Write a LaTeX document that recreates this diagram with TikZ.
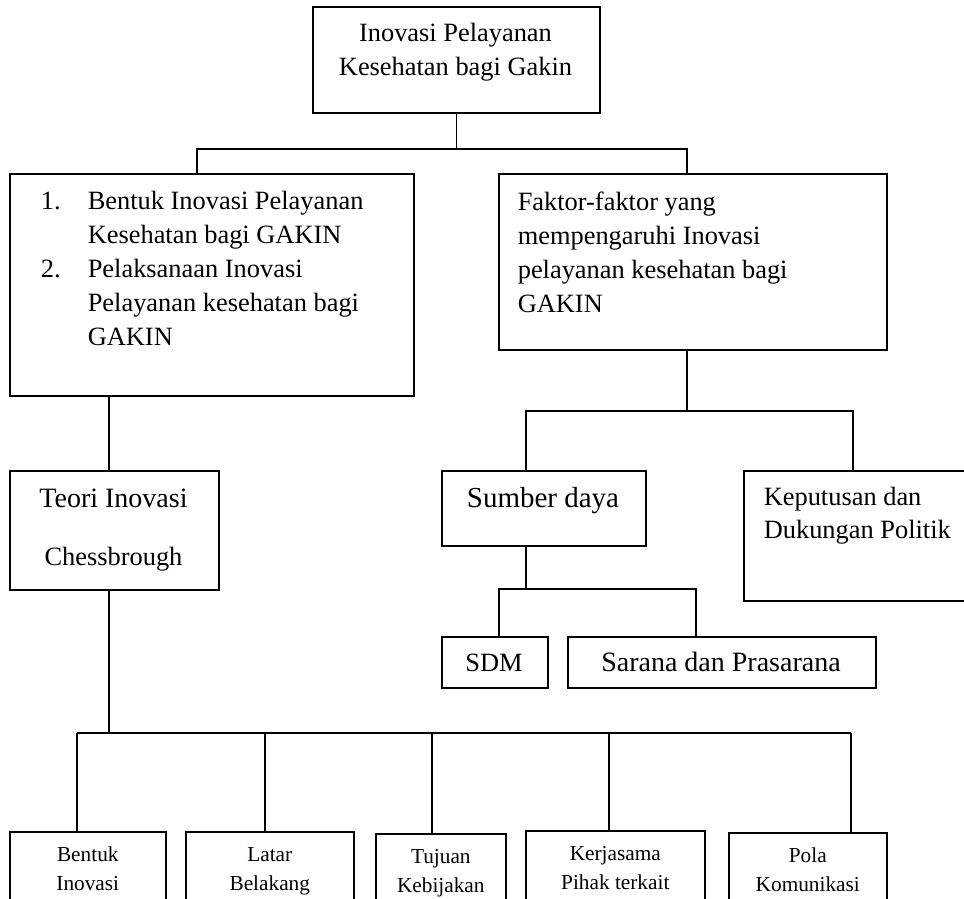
\documentclass[tikz,border=0pt]{standalone}
\usepackage{fontspec}
\setmainfont{Liberation Serif}

\begin{document}
\begin{tikzpicture}[x=1pt,y=-1pt,line width=1.6pt,
    frame/.style={draw, inner sep=0pt, anchor=north west},
    lbl/.style={inner sep=0pt, font=\fontsize{26.4}{34}\selectfont},
    small/.style={inner sep=0pt, font=\fontsize{21.3}{29}\selectfont}]

    \useasboundingbox (0,0) rectangle (964,899);
    \clip (0,0) rectangle (964,899);

    % boxes
    \node[frame, minimum width=287pt, minimum height=106pt] (top) at (312,6) {};
    \node[frame, minimum width=404pt, minimum height=222pt] (fokus) at (9,173) {};
    \node[frame, minimum width=388pt, minimum height=176pt] (faktor) at (498,173) {};
    \node[frame, minimum width=209pt, minimum height=119pt] (teori) at (9,470) {};
    \node[frame, minimum width=204pt, minimum height=75pt] (sumber) at (441,470) {};
    \node[frame, minimum width=240pt, minimum height=130pt] (putusan) at (743,470) {};
    \node[frame, minimum width=106pt, minimum height=51pt] (sdm) at (441,636) {};
    \node[frame, minimum width=308pt, minimum height=51pt] (sarana) at (567,636) {};
    \foreach \n/\x/\y/\w in {bentuk/9/831/156, latar/185/831/168, tujuan/375/833/130,
                             kerja/525/830/179, pola/728/832/158}
        \node[frame, minimum width=\w pt, minimum height=90pt] (\n) at (\x,\y) {};

    % texts
    \node[lbl, anchor=base] (topt) at (455.5,42)
        {\parbox[t]{280pt}{\centering Inovasi Pelayanan\\Kesehatan bagi Gakin}};
    \node[lbl, anchor=base west] (fokust) at (40,209)
        {\begin{tabular}[t]{@{}p{47pt}@{}l@{}}
            1. & Bentuk Inovasi Pelayanan\\
               & Kesehatan bagi GAKIN\\
            2. & Pelaksanaan Inovasi\\
               & Pelayanan kesehatan bagi\\
               & GAKIN
         \end{tabular}};
    \node[lbl, anchor=base west] (faktort) at (517,210)
        {\parbox[t]{360pt}{Faktor-faktor yang\\mempengaruhi Inovasi\\pelayanan kesehatan bagi\\GAKIN}};
    \node[lbl, anchor=base] (teorit) at (113.5,507)
        {\parbox[t]{200pt}{\centering\fontsize{28}{58}\selectfont Teori Inovasi\\
         \fontsize{26.4}{58}\selectfont Chessbrough}};
    \node[lbl, font=\fontsize{29}{34}\selectfont, anchor=base] (sumbert) at (543,507) {Sumber daya};
    \node[lbl, anchor=base west] (putusant) at (763,505)
        {\parbox[t]{200pt}{\baselineskip=33pt Keputusan dan\\Dukungan Politik}};
    \node[lbl, anchor=base] (sdmt) at (494,671) {SDM};
    \node[lbl, font=\fontsize{28}{34}\selectfont, anchor=base] (sranat) at (721,671) {Sarana dan Prasarana};
    \foreach \n/\t in {bentuk/{Bentuk\\Inovasi}, latar/{Latar\\Belakang}, tujuan/{Tujuan\\Kebijakan},
                       kerja/{Kerjasama\\Pihak terkait}, pola/{Pola\\Komunikasi}}
        \node[small, anchor=base] (\n t) at ([yshift=-30pt]\n.north)
            {\parbox[t]{160pt}{\centering \t}};

    % connectors
    \coordinate (jA) at (452,149);
    \coordinate (jAl) at (197,149);
    \coordinate (jAr) at (687,149);
    \coordinate (jB) at (109,0);
    \coordinate (jCl) at (526,411);
    \coordinate (jCr) at (853,411);
    \coordinate (jDl) at (499,589);
    \coordinate (jDr) at (696,589);

    \draw (top.south) -- (top.south |- jA);
    \draw (jAl |- fokus.north) -- (jAl) -- (jAr) -- (jAr |- faktor.north);
    \draw (jB |- fokus.south) -- (jB |- teori.north);
    \draw (jAr |- faktor.south) -- (jAr |- jCl);
    \draw (jCl |- sumber.north) -- (jCl) -- (jCr) -- (jCr |- putusan.north);
    \draw (jCl |- sumber.south) -- (jCl |- jDl);
    \draw (jDl |- sdm.north) -- (jDl) -- (jDr) -- (jDr |- sarana.north);
    \draw (jB |- teori.south) -- (109,733);
    \draw (77,733) -- (851,733);
    \foreach \n/\x in {bentuk/77, latar/265, tujuan/432, kerja/609, pola/851}
        \draw (\x,733) -- (\x,0 |- \n.north);

\end{tikzpicture}
\end{document}
